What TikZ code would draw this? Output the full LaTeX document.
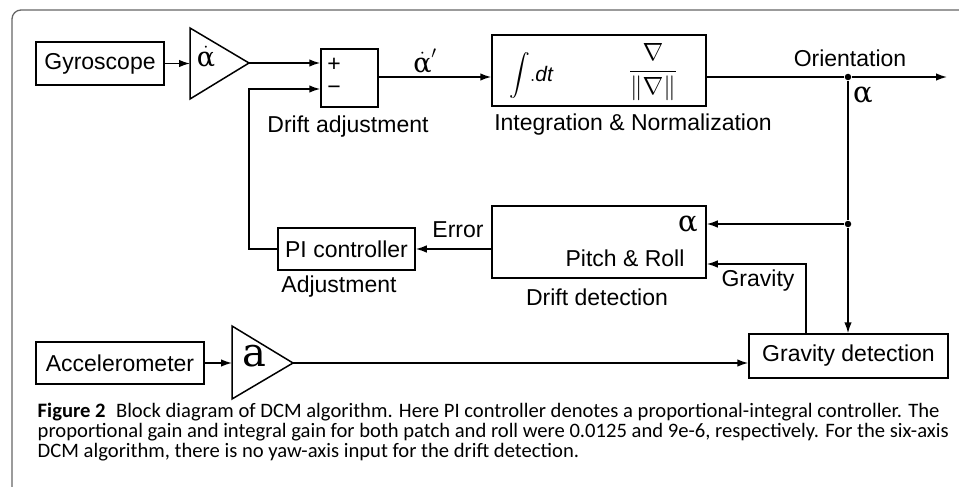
\documentclass[tikz,border=0pt]{standalone}
\usepackage{amsmath}
\usepackage{graphicx}
\usepackage{fontspec}
\setmainfont{Liberation Sans}
\newfontfamily\grk{DejaVu Serif}
\newfontfamily\capfont{Carlito}
\usetikzlibrary{arrows.meta}
\newcommand{\capline}[1]{\scalebox{1.006}[1]{\fontsize{20.5}{20}\capfont #1}}
\begin{document}
\begin{tikzpicture}[x=1pt,y=-1pt, line width=1.5pt, line join=miter,
  blk/.style={draw, inner sep=0pt, font=\fontsize{23}{23}\selectfont},
  lbl/.style={inner sep=0pt, font=\fontsize{23}{23}\selectfont},
  grklbl/.style={inner sep=0pt, font=\fontsize{29}{29}\grk},
  arr/.style={-{Latex[length=11pt,width=7.5pt]}},
  jn/.style={circle, fill, inner sep=0pt, minimum size=6.5pt},
  captext/.style={inner sep=0pt, anchor=base west}]
\useasboundingbox (0,0) rectangle (959,487);
% frame
\draw[black!60, line width=1.3pt, rounded corners=9pt] (12,487) -- (12,10) -- (959,10);

% blocks
\node[blk, minimum width=128pt, minimum height=43pt] (gyro) at (100,63.5) {Gyroscope};
\node[blk, minimum width=57pt, minimum height=58pt] (sum) at (349.5,78) {};
\node[blk, minimum width=214pt, minimum height=71pt] (integ) at (599,70.5) {};
\node[blk, minimum width=214pt, minimum height=72pt] (drift) at (599,242) {};
\node[blk, minimum width=137pt, minimum height=42pt] (pi) at (346.5,249) {PI controller};
\node[blk, minimum width=168pt, minimum height=42pt] (acc) at (120,363) {Accelerometer};
\node[blk, minimum width=199pt, minimum height=44pt] (grav) at (848.5,356) {Gravity detection};

% amplifiers
\coordinate (gt) at (190,28); \coordinate (gb) at (190,99); \coordinate (ga) at (249,63);
\draw (gt) -- (gb) -- (ga) -- cycle;
\coordinate (at) at (232,326); \coordinate (ab) at (232,399); \coordinate (aa) at (293,363);
\draw (at) -- (ab) -- (aa) -- cycle;
\node[inner sep=0pt, font=\fontsize{27}{27}\grk] (galpha) at (206,57) {$\dot{\mbox{α}}$};
\node[inner sep=0pt, font=\fontsize{40}{40}\grk] (aacc) at (254,356) {a};

% texts inside blocks
\node[lbl] (plus) at (334,65) {+};
\node[lbl] (minus) at (334,90) {−};
\node[inner sep=0pt, font=\fontsize{21}{21}\selectfont] (intg) at (531,76) {$\displaystyle\int\!.\mathit{dt}$};
\node[inner sep=0pt, font=\fontsize{25}{25}\selectfont] (norm) at (653,72) {$\displaystyle\frac{\nabla}{\|\nabla\|}$};
\node[grklbl] (alin) at (688,224) {α};
\node[lbl] (pr) at (625,258) {Pitch \& Roll};

% labels
\node[lbl] (l1) at (348,127) {Drift adjustment};
\node[lbl] (l2) at (633,125) {Integration \& Normalization};
\node[lbl] (l3) at (850,58) {Orientation};
\node[grklbl] (l4) at (863,95) {α};
\node[lbl] (l5) at (458,230) {Error};
\node[lbl] (l6) at (339,287) {Adjustment};
\node[lbl] (l7) at (597,297) {Drift detection};
\node[lbl] (l8) at (758,281) {Gravity};
\node[inner sep=0pt, font=\fontsize{27}{27}\grk] (l9) at (425,61) {$\dot{\mbox{α}}'$};

% junctions and coordinates
\node[jn] (j1) at (848,77) {};
\node[jn] (j2) at (848,224) {};
\coordinate (gin) at (190,63.5);
\coordinate (ain) at (232,363);
\coordinate (s77) at (378,77);
\coordinate (oend) at (947,77);
\coordinate (gv) at (806,264);
\coordinate (fbt) at (249,89);

% connectors
\draw[arr] (gyro.east) -- (gin);
\draw[arr] (ga) -- (sum.west |- ga);
\draw[arr] (pi.west) -| (fbt) -- (sum.west |- fbt);
\draw[arr] (s77) -- (integ.west |- s77);
\draw (integ.east |- j1) -- (j1);
\draw[arr] (j1) -- (oend);
\draw (j1) -- (j2);
\draw[arr] (j2) -- (j2 |- grav.north);
\draw[arr] (j2) -- (drift.east |- j2);
\draw[arr] (grav.north -| gv) -- (gv) -- (drift.east |- gv);
\draw[arr] (drift.west |- pi) -- (pi.east);
\draw[arr] (acc.east) -- (ain);
\draw[arr] (aa) -- (grav.west |- aa);

% caption
\node[captext] (c1) at (37,417) {\capline{\textbf{Figure 2}\hspace{0.5em}Block diagram of DCM algorithm. Here PI controller denotes a proportional-integral controller. The}};
\node[captext] (c2) at (37,437) {\capline{proportional gain and integral gain for both patch and roll were 0.0125 and 9e-6, respectively. For the six-axis}};
\node[captext] (c3) at (37,457) {\capline{DCM algorithm, there is no yaw-axis input for the drift detection.}};
\end{tikzpicture}
\end{document}
